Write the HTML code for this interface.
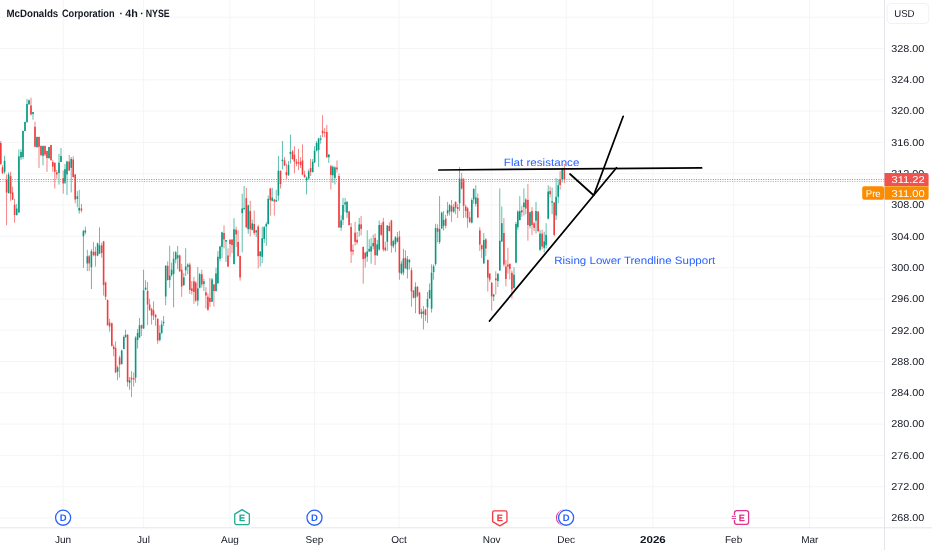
<!DOCTYPE html><html><head><meta charset="utf-8"><title>MCD chart</title><style>html,body{margin:0;padding:0;background:#fff}body{width:932px;height:550px;overflow:hidden}</style></head><body><svg width="932" height="550" viewBox="0 0 932 550" style="display:block;will-change:transform" text-rendering="geometricPrecision" font-family="'Liberation Sans', Arial, sans-serif">
<rect width="932" height="550" fill="#fff"/>
<g stroke="#f4f5f6" stroke-width="1" shape-rendering="auto">
<line x1="63.2" y1="0" x2="63.2" y2="527.8"/>
<line x1="143.6" y1="0" x2="143.6" y2="527.8"/>
<line x1="230" y1="0" x2="230" y2="527.8"/>
<line x1="314.5" y1="0" x2="314.5" y2="527.8"/>
<line x1="399" y1="0" x2="399" y2="527.8"/>
<line x1="491.7" y1="0" x2="491.7" y2="527.8"/>
<line x1="566.2" y1="0" x2="566.2" y2="527.8"/>
<line x1="652.8" y1="0" x2="652.8" y2="527.8"/>
<line x1="733.6" y1="0" x2="733.6" y2="527.8"/>
<line x1="809.6" y1="0" x2="809.6" y2="527.8"/>
<line x1="0" y1="518.00" x2="884.5" y2="518.00"/>
<line x1="0" y1="486.70" x2="884.5" y2="486.70"/>
<line x1="0" y1="455.40" x2="884.5" y2="455.40"/>
<line x1="0" y1="424.10" x2="884.5" y2="424.10"/>
<line x1="0" y1="392.80" x2="884.5" y2="392.80"/>
<line x1="0" y1="361.50" x2="884.5" y2="361.50"/>
<line x1="0" y1="330.20" x2="884.5" y2="330.20"/>
<line x1="0" y1="298.90" x2="884.5" y2="298.90"/>
<line x1="0" y1="267.60" x2="884.5" y2="267.60"/>
<line x1="0" y1="236.30" x2="884.5" y2="236.30"/>
<line x1="0" y1="205.00" x2="884.5" y2="205.00"/>
<line x1="0" y1="173.70" x2="884.5" y2="173.70"/>
<line x1="0" y1="142.40" x2="884.5" y2="142.40"/>
<line x1="0" y1="111.10" x2="884.5" y2="111.10"/>
<line x1="0" y1="79.80" x2="884.5" y2="79.80"/>
<line x1="0" y1="48.50" x2="884.5" y2="48.50"/>
<line x1="0" y1="17.20" x2="884.5" y2="17.20"/>
</g>
<line x1="884.5" y1="0" x2="884.5" y2="550" stroke="#e3e5ea" stroke-width="1"/>
<line x1="0" y1="527.8" x2="932" y2="527.8" stroke="#e3e5ea" stroke-width="1"/>
<g>
<rect x="0.35" y="141.0" width="0.9" height="24.0" fill="#f03e40" fill-opacity="0.7"/>
<rect x="0.00" y="143.0" width="1.6" height="21.0" fill="#f03e40"/>
<rect x="2.05" y="165.0" width="0.9" height="9.0" fill="#f03e40" fill-opacity="0.7"/>
<rect x="1.70" y="167.3" width="1.6" height="5.7" fill="#f03e40"/>
<rect x="4.15" y="155.8" width="0.9" height="17.9" fill="#089981" fill-opacity="0.7"/>
<rect x="3.80" y="160.8" width="1.6" height="11.0" fill="#089981"/>
<rect x="6.15" y="174.4" width="0.9" height="50.9" fill="#f03e40" fill-opacity="0.7"/>
<rect x="5.80" y="180.0" width="1.6" height="12.4" fill="#f03e40"/>
<rect x="8.15" y="172.4" width="0.9" height="21.3" fill="#089981" fill-opacity="0.7"/>
<rect x="7.80" y="174.4" width="1.6" height="18.6" fill="#089981"/>
<rect x="10.15" y="171.8" width="0.9" height="29.0" fill="#f03e40" fill-opacity="0.7"/>
<rect x="9.80" y="176.3" width="1.6" height="17.4" fill="#f03e40"/>
<rect x="12.15" y="186.6" width="0.9" height="13.4" fill="#f03e40" fill-opacity="0.7"/>
<rect x="11.80" y="192.4" width="1.6" height="7.1" fill="#f03e40"/>
<rect x="14.15" y="198.9" width="0.9" height="23.8" fill="#f03e40" fill-opacity="0.7"/>
<rect x="13.80" y="204.7" width="1.6" height="10.3" fill="#f03e40"/>
<rect x="16.25" y="204.0" width="0.9" height="11.6" fill="#089981" fill-opacity="0.7"/>
<rect x="15.90" y="208.5" width="1.6" height="6.5" fill="#089981"/>
<rect x="18.45" y="149.4" width="0.9" height="63.6" fill="#089981" fill-opacity="0.7"/>
<rect x="18.10" y="156.3" width="1.6" height="56.1" fill="#089981"/>
<rect x="20.55" y="149.4" width="0.9" height="10.6" fill="#089981" fill-opacity="0.7"/>
<rect x="20.20" y="152.0" width="1.6" height="5.6" fill="#089981"/>
<rect x="22.55" y="130.6" width="0.9" height="28.4" fill="#089981" fill-opacity="0.7"/>
<rect x="22.20" y="131.0" width="1.6" height="26.0" fill="#089981"/>
<rect x="24.55" y="121.6" width="0.9" height="9.7" fill="#089981" fill-opacity="0.7"/>
<rect x="24.20" y="122.0" width="1.6" height="9.0" fill="#089981"/>
<rect x="26.55" y="99.0" width="0.9" height="24.0" fill="#089981" fill-opacity="0.7"/>
<rect x="26.20" y="104.0" width="1.6" height="18.0" fill="#089981"/>
<rect x="28.55" y="99.5" width="0.9" height="5.5" fill="#089981" fill-opacity="0.7"/>
<rect x="28.20" y="100.3" width="1.6" height="3.9" fill="#089981"/>
<rect x="30.55" y="97.7" width="0.9" height="17.5" fill="#f03e40" fill-opacity="0.7"/>
<rect x="30.20" y="105.5" width="1.6" height="9.0" fill="#f03e40"/>
<rect x="32.55" y="112.0" width="0.9" height="7.7" fill="#089981" fill-opacity="0.7"/>
<rect x="32.20" y="112.0" width="1.6" height="2.0" fill="#089981"/>
<rect x="34.55" y="121.6" width="0.9" height="25.4" fill="#f03e40" fill-opacity="0.7"/>
<rect x="34.20" y="126.8" width="1.6" height="20.0" fill="#f03e40"/>
<rect x="36.55" y="136.5" width="0.9" height="11.5" fill="#089981" fill-opacity="0.7"/>
<rect x="36.20" y="137.0" width="1.6" height="10.0" fill="#089981"/>
<rect x="38.55" y="136.5" width="0.9" height="31.4" fill="#f03e40" fill-opacity="0.7"/>
<rect x="38.20" y="137.0" width="1.6" height="9.8" fill="#f03e40"/>
<rect x="40.55" y="145.5" width="0.9" height="10.8" fill="#f03e40" fill-opacity="0.7"/>
<rect x="40.20" y="146.0" width="1.6" height="9.0" fill="#f03e40"/>
<rect x="42.55" y="145.5" width="0.9" height="19.8" fill="#089981" fill-opacity="0.7"/>
<rect x="42.20" y="146.0" width="1.6" height="9.8" fill="#089981"/>
<rect x="44.55" y="145.5" width="0.9" height="10.5" fill="#f03e40" fill-opacity="0.7"/>
<rect x="44.20" y="146.0" width="1.6" height="8.5" fill="#f03e40"/>
<rect x="46.55" y="150.6" width="0.9" height="21.2" fill="#f03e40" fill-opacity="0.7"/>
<rect x="46.20" y="151.0" width="1.6" height="7.0" fill="#f03e40"/>
<rect x="48.55" y="146.8" width="0.9" height="12.1" fill="#089981" fill-opacity="0.7"/>
<rect x="48.20" y="147.0" width="1.6" height="11.0" fill="#089981"/>
<rect x="50.55" y="144.8" width="0.9" height="16.0" fill="#f03e40" fill-opacity="0.7"/>
<rect x="50.20" y="145.0" width="1.6" height="15.0" fill="#f03e40"/>
<rect x="52.35" y="160.0" width="0.9" height="11.8" fill="#f03e40" fill-opacity="0.7"/>
<rect x="52.00" y="162.0" width="1.6" height="4.6" fill="#f03e40"/>
<rect x="54.35" y="162.7" width="0.9" height="25.8" fill="#f03e40" fill-opacity="0.7"/>
<rect x="54.00" y="162.7" width="1.6" height="9.1" fill="#f03e40"/>
<rect x="56.35" y="170.0" width="0.9" height="8.9" fill="#f03e40" fill-opacity="0.7"/>
<rect x="56.00" y="172.4" width="1.6" height="2.0" fill="#f03e40"/>
<rect x="58.55" y="153.9" width="0.9" height="30.8" fill="#089981" fill-opacity="0.7"/>
<rect x="58.20" y="162.7" width="1.6" height="10.3" fill="#089981"/>
<rect x="60.55" y="148.0" width="0.9" height="14.0" fill="#089981" fill-opacity="0.7"/>
<rect x="60.20" y="156.0" width="1.6" height="6.0" fill="#089981"/>
<rect x="62.75" y="170.5" width="0.9" height="23.2" fill="#f03e40" fill-opacity="0.7"/>
<rect x="62.40" y="178.2" width="1.6" height="5.2" fill="#f03e40"/>
<rect x="64.55" y="164.0" width="0.9" height="20.0" fill="#089981" fill-opacity="0.7"/>
<rect x="64.20" y="169.2" width="1.6" height="13.5" fill="#089981"/>
<rect x="66.55" y="160.8" width="0.9" height="34.2" fill="#089981" fill-opacity="0.7"/>
<rect x="66.20" y="161.5" width="1.6" height="12.9" fill="#089981"/>
<rect x="68.75" y="155.0" width="0.9" height="16.0" fill="#f03e40" fill-opacity="0.7"/>
<rect x="68.40" y="161.5" width="1.6" height="9.0" fill="#f03e40"/>
<rect x="70.75" y="157.0" width="0.9" height="35.4" fill="#089981" fill-opacity="0.7"/>
<rect x="70.40" y="158.9" width="1.6" height="9.0" fill="#089981"/>
<rect x="72.75" y="156.3" width="0.9" height="21.3" fill="#f03e40" fill-opacity="0.7"/>
<rect x="72.40" y="159.5" width="1.6" height="17.5" fill="#f03e40"/>
<rect x="74.75" y="174.4" width="0.9" height="29.0" fill="#f03e40" fill-opacity="0.7"/>
<rect x="74.40" y="174.4" width="1.6" height="25.1" fill="#f03e40"/>
<rect x="76.85" y="191.1" width="0.9" height="16.2" fill="#089981" fill-opacity="0.7"/>
<rect x="76.50" y="196.3" width="1.6" height="2.6" fill="#089981"/>
<rect x="78.75" y="189.8" width="0.9" height="23.9" fill="#089981" fill-opacity="0.7"/>
<rect x="78.40" y="207.9" width="1.6" height="2.6" fill="#089981"/>
<rect x="80.95" y="204.0" width="0.9" height="8.4" fill="#f03e40" fill-opacity="0.7"/>
<rect x="80.60" y="208.5" width="1.6" height="2.0" fill="#f03e40"/>
<rect x="82.95" y="229.8" width="0.9" height="38.1" fill="#089981" fill-opacity="0.7"/>
<rect x="82.60" y="231.1" width="1.6" height="5.2" fill="#089981"/>
<rect x="84.85" y="226.6" width="0.9" height="7.8" fill="#089981" fill-opacity="0.7"/>
<rect x="84.50" y="230.5" width="1.6" height="1.9" fill="#089981"/>
<rect x="86.85" y="249.8" width="0.9" height="21.3" fill="#089981" fill-opacity="0.7"/>
<rect x="86.50" y="256.3" width="1.6" height="7.1" fill="#089981"/>
<rect x="88.75" y="255.0" width="0.9" height="16.0" fill="#f03e40" fill-opacity="0.7"/>
<rect x="88.40" y="256.3" width="1.6" height="7.1" fill="#f03e40"/>
<rect x="90.95" y="249.2" width="0.9" height="39.8" fill="#089981" fill-opacity="0.7"/>
<rect x="90.60" y="251.1" width="1.6" height="16.2" fill="#089981"/>
<rect x="93.05" y="242.1" width="0.9" height="14.2" fill="#f03e40" fill-opacity="0.7"/>
<rect x="92.70" y="251.8" width="1.6" height="3.2" fill="#f03e40"/>
<rect x="94.95" y="246.6" width="0.9" height="20.0" fill="#f03e40" fill-opacity="0.7"/>
<rect x="94.60" y="251.8" width="1.6" height="3.8" fill="#f03e40"/>
<rect x="97.15" y="242.7" width="0.9" height="13.6" fill="#089981" fill-opacity="0.7"/>
<rect x="96.80" y="243.4" width="1.6" height="12.2" fill="#089981"/>
<rect x="99.05" y="227.3" width="0.9" height="26.4" fill="#089981" fill-opacity="0.7"/>
<rect x="98.70" y="245.3" width="1.6" height="8.4" fill="#089981"/>
<rect x="101.25" y="242.7" width="0.9" height="14.9" fill="#f03e40" fill-opacity="0.7"/>
<rect x="100.90" y="245.3" width="1.6" height="7.7" fill="#f03e40"/>
<rect x="103.15" y="240.8" width="0.9" height="54.7" fill="#f03e40" fill-opacity="0.7"/>
<rect x="102.80" y="241.4" width="1.6" height="43.6" fill="#f03e40"/>
<rect x="105.15" y="281.5" width="0.9" height="18.5" fill="#f03e40" fill-opacity="0.7"/>
<rect x="104.80" y="282.6" width="1.6" height="14.2" fill="#f03e40"/>
<rect x="107.15" y="299.4" width="0.9" height="26.4" fill="#f03e40" fill-opacity="0.7"/>
<rect x="106.80" y="300.0" width="1.6" height="25.2" fill="#f03e40"/>
<rect x="109.15" y="318.7" width="0.9" height="12.9" fill="#f03e40" fill-opacity="0.7"/>
<rect x="108.80" y="322.6" width="1.6" height="3.9" fill="#f03e40"/>
<rect x="111.35" y="322.6" width="0.9" height="24.0" fill="#f03e40" fill-opacity="0.7"/>
<rect x="111.00" y="323.2" width="1.6" height="22.6" fill="#f03e40"/>
<rect x="113.25" y="344.5" width="0.9" height="11.8" fill="#f03e40" fill-opacity="0.7"/>
<rect x="112.90" y="346.6" width="1.6" height="2.6" fill="#f03e40"/>
<rect x="115.15" y="341.5" width="0.9" height="31.5" fill="#f03e40" fill-opacity="0.7"/>
<rect x="114.80" y="348.0" width="1.6" height="24.4" fill="#f03e40"/>
<rect x="117.15" y="365.3" width="0.9" height="14.9" fill="#089981" fill-opacity="0.7"/>
<rect x="116.80" y="367.3" width="1.6" height="4.5" fill="#089981"/>
<rect x="119.15" y="355.6" width="0.9" height="22.0" fill="#f03e40" fill-opacity="0.7"/>
<rect x="118.80" y="357.6" width="1.6" height="7.1" fill="#f03e40"/>
<rect x="121.25" y="349.8" width="0.9" height="14.9" fill="#089981" fill-opacity="0.7"/>
<rect x="120.90" y="350.5" width="1.6" height="13.5" fill="#089981"/>
<rect x="123.35" y="335.5" width="0.9" height="13.7" fill="#089981" fill-opacity="0.7"/>
<rect x="123.00" y="337.0" width="1.6" height="12.0" fill="#089981"/>
<rect x="125.15" y="329.7" width="0.9" height="7.7" fill="#089981" fill-opacity="0.7"/>
<rect x="124.80" y="334.8" width="1.6" height="2.6" fill="#089981"/>
<rect x="127.15" y="334.2" width="0.9" height="52.4" fill="#f03e40" fill-opacity="0.7"/>
<rect x="126.80" y="334.8" width="1.6" height="47.3" fill="#f03e40"/>
<rect x="129.15" y="377.0" width="0.9" height="12.8" fill="#089981" fill-opacity="0.7"/>
<rect x="128.80" y="380.2" width="1.6" height="2.5" fill="#089981"/>
<rect x="131.05" y="371.1" width="0.9" height="25.9" fill="#f03e40" fill-opacity="0.7"/>
<rect x="130.70" y="377.6" width="1.6" height="1.9" fill="#f03e40"/>
<rect x="133.25" y="372.4" width="0.9" height="14.2" fill="#f03e40" fill-opacity="0.7"/>
<rect x="132.90" y="378.2" width="1.6" height="1.3" fill="#f03e40"/>
<rect x="135.15" y="336.3" width="0.9" height="46.4" fill="#089981" fill-opacity="0.7"/>
<rect x="134.80" y="337.6" width="1.6" height="40.0" fill="#089981"/>
<rect x="137.15" y="329.0" width="0.9" height="19.5" fill="#089981" fill-opacity="0.7"/>
<rect x="136.80" y="332.9" width="1.6" height="7.1" fill="#089981"/>
<rect x="139.05" y="318.0" width="0.9" height="20.0" fill="#089981" fill-opacity="0.7"/>
<rect x="138.70" y="325.2" width="1.6" height="12.2" fill="#089981"/>
<rect x="141.15" y="324.5" width="0.9" height="11.6" fill="#f03e40" fill-opacity="0.7"/>
<rect x="140.80" y="325.2" width="1.6" height="3.2" fill="#f03e40"/>
<rect x="143.15" y="269.8" width="0.9" height="59.2" fill="#089981" fill-opacity="0.7"/>
<rect x="142.80" y="290.3" width="1.6" height="38.1" fill="#089981"/>
<rect x="145.15" y="280.2" width="0.9" height="10.1" fill="#089981" fill-opacity="0.7"/>
<rect x="144.80" y="287.7" width="1.6" height="2.0" fill="#089981"/>
<rect x="147.15" y="282.0" width="0.9" height="43.2" fill="#f03e40" fill-opacity="0.7"/>
<rect x="146.80" y="291.0" width="1.6" height="13.5" fill="#f03e40"/>
<rect x="149.15" y="298.7" width="0.9" height="12.3" fill="#f03e40" fill-opacity="0.7"/>
<rect x="148.80" y="304.5" width="1.6" height="5.2" fill="#f03e40"/>
<rect x="151.15" y="307.7" width="0.9" height="16.8" fill="#f03e40" fill-opacity="0.7"/>
<rect x="150.80" y="309.0" width="1.6" height="6.5" fill="#f03e40"/>
<rect x="153.05" y="301.3" width="0.9" height="18.7" fill="#f03e40" fill-opacity="0.7"/>
<rect x="152.70" y="310.3" width="1.6" height="5.2" fill="#f03e40"/>
<rect x="155.15" y="314.2" width="0.9" height="11.6" fill="#f03e40" fill-opacity="0.7"/>
<rect x="154.80" y="314.8" width="1.6" height="2.6" fill="#f03e40"/>
<rect x="157.25" y="318.7" width="0.9" height="25.2" fill="#f03e40" fill-opacity="0.7"/>
<rect x="156.90" y="318.7" width="1.6" height="21.9" fill="#f03e40"/>
<rect x="159.35" y="325.2" width="0.9" height="16.3" fill="#089981" fill-opacity="0.7"/>
<rect x="159.00" y="332.9" width="1.6" height="7.1" fill="#089981"/>
<rect x="161.25" y="320.6" width="0.9" height="13.6" fill="#089981" fill-opacity="0.7"/>
<rect x="160.90" y="324.5" width="1.6" height="8.4" fill="#089981"/>
<rect x="163.15" y="316.1" width="0.9" height="9.7" fill="#089981" fill-opacity="0.7"/>
<rect x="162.80" y="321.9" width="1.6" height="1.3" fill="#089981"/>
<rect x="165.25" y="265.2" width="0.9" height="40.0" fill="#089981" fill-opacity="0.7"/>
<rect x="164.90" y="265.8" width="1.6" height="30.7" fill="#089981"/>
<rect x="167.25" y="261.3" width="0.9" height="19.3" fill="#f03e40" fill-opacity="0.7"/>
<rect x="166.90" y="265.8" width="1.6" height="14.2" fill="#f03e40"/>
<rect x="169.25" y="245.8" width="0.9" height="41.9" fill="#089981" fill-opacity="0.7"/>
<rect x="168.90" y="275.5" width="1.6" height="4.5" fill="#089981"/>
<rect x="171.15" y="262.6" width="0.9" height="13.9" fill="#089981" fill-opacity="0.7"/>
<rect x="170.80" y="269.7" width="1.6" height="5.5" fill="#089981"/>
<rect x="173.15" y="251.6" width="0.9" height="55.8" fill="#089981" fill-opacity="0.7"/>
<rect x="172.80" y="258.8" width="1.6" height="15.2" fill="#089981"/>
<rect x="175.25" y="251.0" width="0.9" height="12.3" fill="#089981" fill-opacity="0.7"/>
<rect x="174.90" y="252.3" width="1.6" height="7.1" fill="#089981"/>
<rect x="177.25" y="245.9" width="0.9" height="23.2" fill="#089981" fill-opacity="0.7"/>
<rect x="176.90" y="255.2" width="1.6" height="2.9" fill="#089981"/>
<rect x="179.25" y="254.6" width="0.9" height="17.4" fill="#f03e40" fill-opacity="0.7"/>
<rect x="178.90" y="255.5" width="1.6" height="15.8" fill="#f03e40"/>
<rect x="181.25" y="263.9" width="0.9" height="32.9" fill="#f03e40" fill-opacity="0.7"/>
<rect x="180.90" y="269.7" width="1.6" height="16.8" fill="#f03e40"/>
<rect x="183.35" y="272.9" width="0.9" height="12.9" fill="#089981" fill-opacity="0.7"/>
<rect x="183.00" y="277.4" width="1.6" height="7.8" fill="#089981"/>
<rect x="185.25" y="248.2" width="0.9" height="27.8" fill="#089981" fill-opacity="0.7"/>
<rect x="184.90" y="266.5" width="1.6" height="3.9" fill="#089981"/>
<rect x="187.35" y="263.3" width="0.9" height="11.0" fill="#089981" fill-opacity="0.7"/>
<rect x="187.00" y="264.6" width="1.6" height="2.3" fill="#089981"/>
<rect x="189.35" y="262.6" width="0.9" height="31.4" fill="#f03e40" fill-opacity="0.7"/>
<rect x="189.00" y="264.6" width="1.6" height="25.4" fill="#f03e40"/>
<rect x="191.35" y="281.0" width="0.9" height="13.5" fill="#f03e40" fill-opacity="0.7"/>
<rect x="191.00" y="288.4" width="1.6" height="2.6" fill="#f03e40"/>
<rect x="193.45" y="276.9" width="0.9" height="27.0" fill="#f03e40" fill-opacity="0.7"/>
<rect x="193.10" y="281.3" width="1.6" height="10.7" fill="#f03e40"/>
<rect x="195.25" y="281.3" width="0.9" height="20.6" fill="#f03e40" fill-opacity="0.7"/>
<rect x="194.90" y="282.6" width="1.6" height="18.0" fill="#f03e40"/>
<rect x="197.35" y="267.1" width="0.9" height="38.7" fill="#089981" fill-opacity="0.7"/>
<rect x="197.00" y="288.4" width="1.6" height="12.2" fill="#089981"/>
<rect x="199.25" y="272.9" width="0.9" height="15.5" fill="#089981" fill-opacity="0.7"/>
<rect x="198.90" y="274.2" width="1.6" height="13.5" fill="#089981"/>
<rect x="201.35" y="269.7" width="0.9" height="18.0" fill="#f03e40" fill-opacity="0.7"/>
<rect x="201.00" y="274.2" width="1.6" height="10.3" fill="#f03e40"/>
<rect x="203.45" y="278.7" width="0.9" height="12.3" fill="#089981" fill-opacity="0.7"/>
<rect x="203.10" y="281.3" width="1.6" height="2.6" fill="#089981"/>
<rect x="205.45" y="287.1" width="0.9" height="21.3" fill="#f03e40" fill-opacity="0.7"/>
<rect x="205.10" y="292.3" width="1.6" height="3.2" fill="#f03e40"/>
<rect x="207.45" y="293.5" width="0.9" height="17.5" fill="#f03e40" fill-opacity="0.7"/>
<rect x="207.10" y="296.8" width="1.6" height="12.9" fill="#f03e40"/>
<rect x="209.45" y="278.0" width="0.9" height="29.0" fill="#f03e40" fill-opacity="0.7"/>
<rect x="209.10" y="298.0" width="1.6" height="4.0" fill="#f03e40"/>
<rect x="211.55" y="278.0" width="0.9" height="24.0" fill="#089981" fill-opacity="0.7"/>
<rect x="211.20" y="279.4" width="1.6" height="22.3" fill="#089981"/>
<rect x="213.45" y="283.9" width="0.9" height="22.6" fill="#f03e40" fill-opacity="0.7"/>
<rect x="213.10" y="284.5" width="1.6" height="6.5" fill="#f03e40"/>
<rect x="215.55" y="267.7" width="0.9" height="23.9" fill="#089981" fill-opacity="0.7"/>
<rect x="215.20" y="273.5" width="1.6" height="17.5" fill="#089981"/>
<rect x="217.45" y="251.0" width="0.9" height="32.9" fill="#089981" fill-opacity="0.7"/>
<rect x="217.10" y="256.8" width="1.6" height="26.4" fill="#089981"/>
<rect x="219.55" y="245.8" width="0.9" height="15.5" fill="#089981" fill-opacity="0.7"/>
<rect x="219.20" y="246.5" width="1.6" height="12.2" fill="#089981"/>
<rect x="221.55" y="231.8" width="0.9" height="26.2" fill="#089981" fill-opacity="0.7"/>
<rect x="221.20" y="232.4" width="1.6" height="14.6" fill="#089981"/>
<rect x="223.55" y="225.3" width="0.9" height="23.1" fill="#f03e40" fill-opacity="0.7"/>
<rect x="223.20" y="233.0" width="1.6" height="6.5" fill="#f03e40"/>
<rect x="225.55" y="240.0" width="0.9" height="22.0" fill="#089981" fill-opacity="0.7"/>
<rect x="225.20" y="240.0" width="1.6" height="1.6" fill="#089981"/>
<rect x="227.55" y="248.4" width="0.9" height="18.7" fill="#f03e40" fill-opacity="0.7"/>
<rect x="227.20" y="255.5" width="1.6" height="11.0" fill="#f03e40"/>
<rect x="229.55" y="238.9" width="0.9" height="17.9" fill="#f03e40" fill-opacity="0.7"/>
<rect x="229.20" y="240.0" width="1.6" height="4.0" fill="#f03e40"/>
<rect x="231.55" y="239.5" width="0.9" height="13.5" fill="#f03e40" fill-opacity="0.7"/>
<rect x="231.20" y="239.5" width="1.6" height="5.5" fill="#f03e40"/>
<rect x="233.55" y="218.2" width="0.9" height="46.3" fill="#089981" fill-opacity="0.7"/>
<rect x="233.20" y="229.2" width="1.6" height="34.8" fill="#089981"/>
<rect x="235.65" y="226.6" width="0.9" height="20.4" fill="#f03e40" fill-opacity="0.7"/>
<rect x="235.30" y="229.8" width="1.6" height="4.6" fill="#f03e40"/>
<rect x="237.65" y="230.5" width="0.9" height="26.3" fill="#f03e40" fill-opacity="0.7"/>
<rect x="237.30" y="242.0" width="1.6" height="14.0" fill="#f03e40"/>
<rect x="239.65" y="255.5" width="0.9" height="25.1" fill="#f03e40" fill-opacity="0.7"/>
<rect x="239.30" y="256.0" width="1.6" height="21.4" fill="#f03e40"/>
<rect x="241.75" y="193.7" width="0.9" height="58.6" fill="#089981" fill-opacity="0.7"/>
<rect x="241.40" y="208.5" width="1.6" height="4.5" fill="#089981"/>
<rect x="243.65" y="186.0" width="0.9" height="23.8" fill="#089981" fill-opacity="0.7"/>
<rect x="243.30" y="207.9" width="1.6" height="1.3" fill="#089981"/>
<rect x="245.85" y="187.9" width="0.9" height="40.0" fill="#f03e40" fill-opacity="0.7"/>
<rect x="245.50" y="198.2" width="1.6" height="29.1" fill="#f03e40"/>
<rect x="247.75" y="204.7" width="0.9" height="29.0" fill="#089981" fill-opacity="0.7"/>
<rect x="247.40" y="205.3" width="1.6" height="23.9" fill="#089981"/>
<rect x="249.75" y="200.8" width="0.9" height="35.5" fill="#f03e40" fill-opacity="0.7"/>
<rect x="249.40" y="211.1" width="1.6" height="18.1" fill="#f03e40"/>
<rect x="251.75" y="219.5" width="0.9" height="11.0" fill="#089981" fill-opacity="0.7"/>
<rect x="251.40" y="223.4" width="1.6" height="6.4" fill="#089981"/>
<rect x="253.75" y="210.5" width="0.9" height="24.5" fill="#f03e40" fill-opacity="0.7"/>
<rect x="253.40" y="224.0" width="1.6" height="9.0" fill="#f03e40"/>
<rect x="255.75" y="229.8" width="0.9" height="7.2" fill="#089981" fill-opacity="0.7"/>
<rect x="255.40" y="230.5" width="1.6" height="1.9" fill="#089981"/>
<rect x="257.75" y="224.7" width="0.9" height="43.7" fill="#f03e40" fill-opacity="0.7"/>
<rect x="257.40" y="226.6" width="1.6" height="29.5" fill="#f03e40"/>
<rect x="259.75" y="251.0" width="0.9" height="15.5" fill="#089981" fill-opacity="0.7"/>
<rect x="259.40" y="251.6" width="1.6" height="4.5" fill="#089981"/>
<rect x="261.75" y="226.6" width="0.9" height="36.6" fill="#089981" fill-opacity="0.7"/>
<rect x="261.40" y="238.2" width="1.6" height="18.6" fill="#089981"/>
<rect x="263.75" y="226.0" width="0.9" height="17.0" fill="#089981" fill-opacity="0.7"/>
<rect x="263.40" y="227.3" width="1.6" height="11.6" fill="#089981"/>
<rect x="265.85" y="222.1" width="0.9" height="23.7" fill="#089981" fill-opacity="0.7"/>
<rect x="265.50" y="224.0" width="1.6" height="2.6" fill="#089981"/>
<rect x="267.75" y="195.6" width="0.9" height="29.1" fill="#089981" fill-opacity="0.7"/>
<rect x="267.40" y="198.9" width="1.6" height="25.1" fill="#089981"/>
<rect x="269.85" y="187.9" width="0.9" height="27.7" fill="#f03e40" fill-opacity="0.7"/>
<rect x="269.50" y="188.5" width="1.6" height="11.7" fill="#f03e40"/>
<rect x="271.75" y="187.9" width="0.9" height="13.6" fill="#089981" fill-opacity="0.7"/>
<rect x="271.40" y="197.6" width="1.6" height="3.2" fill="#089981"/>
<rect x="273.85" y="198.9" width="0.9" height="16.7" fill="#f03e40" fill-opacity="0.7"/>
<rect x="273.50" y="199.5" width="1.6" height="2.0" fill="#f03e40"/>
<rect x="275.75" y="189.8" width="0.9" height="12.3" fill="#089981" fill-opacity="0.7"/>
<rect x="275.40" y="200.2" width="1.6" height="1.3" fill="#089981"/>
<rect x="277.95" y="155.9" width="0.9" height="44.9" fill="#089981" fill-opacity="0.7"/>
<rect x="277.60" y="170.7" width="1.6" height="24.9" fill="#089981"/>
<rect x="280.05" y="170.7" width="0.9" height="17.8" fill="#f03e40" fill-opacity="0.7"/>
<rect x="279.70" y="170.7" width="1.6" height="13.3" fill="#f03e40"/>
<rect x="281.95" y="141.0" width="0.9" height="28.4" fill="#089981" fill-opacity="0.7"/>
<rect x="281.60" y="159.7" width="1.6" height="1.3" fill="#089981"/>
<rect x="284.05" y="157.2" width="0.9" height="9.0" fill="#f03e40" fill-opacity="0.7"/>
<rect x="283.70" y="160.4" width="1.6" height="5.1" fill="#f03e40"/>
<rect x="285.95" y="163.6" width="0.9" height="15.4" fill="#f03e40" fill-opacity="0.7"/>
<rect x="285.60" y="172.0" width="1.6" height="3.2" fill="#f03e40"/>
<rect x="288.05" y="161.0" width="0.9" height="14.9" fill="#089981" fill-opacity="0.7"/>
<rect x="287.70" y="164.9" width="1.6" height="10.3" fill="#089981"/>
<rect x="289.95" y="134.6" width="0.9" height="29.0" fill="#089981" fill-opacity="0.7"/>
<rect x="289.60" y="152.0" width="1.6" height="1.9" fill="#089981"/>
<rect x="292.05" y="150.0" width="0.9" height="9.7" fill="#f03e40" fill-opacity="0.7"/>
<rect x="291.70" y="151.4" width="1.6" height="7.6" fill="#f03e40"/>
<rect x="293.95" y="146.2" width="0.9" height="27.1" fill="#f03e40" fill-opacity="0.7"/>
<rect x="293.60" y="154.6" width="1.6" height="7.1" fill="#f03e40"/>
<rect x="296.05" y="159.0" width="0.9" height="7.2" fill="#f03e40" fill-opacity="0.7"/>
<rect x="295.70" y="161.7" width="1.6" height="1.9" fill="#f03e40"/>
<rect x="298.05" y="148.8" width="0.9" height="21.2" fill="#f03e40" fill-opacity="0.7"/>
<rect x="297.70" y="162.3" width="1.6" height="1.3" fill="#f03e40"/>
<rect x="300.15" y="157.2" width="0.9" height="10.8" fill="#f03e40" fill-opacity="0.7"/>
<rect x="299.80" y="161.7" width="1.6" height="3.2" fill="#f03e40"/>
<rect x="302.05" y="144.3" width="0.9" height="30.9" fill="#f03e40" fill-opacity="0.7"/>
<rect x="301.70" y="160.4" width="1.6" height="14.2" fill="#f03e40"/>
<rect x="304.15" y="170.7" width="0.9" height="7.1" fill="#f03e40" fill-opacity="0.7"/>
<rect x="303.80" y="174.6" width="1.6" height="2.6" fill="#f03e40"/>
<rect x="306.15" y="176.5" width="0.9" height="17.9" fill="#089981" fill-opacity="0.7"/>
<rect x="305.80" y="177.8" width="1.6" height="2.4" fill="#089981"/>
<rect x="308.25" y="169.4" width="0.9" height="10.3" fill="#089981" fill-opacity="0.7"/>
<rect x="307.90" y="171.4" width="1.6" height="7.1" fill="#089981"/>
<rect x="310.15" y="159.0" width="0.9" height="16.9" fill="#f03e40" fill-opacity="0.7"/>
<rect x="309.80" y="168.0" width="1.6" height="4.0" fill="#f03e40"/>
<rect x="312.25" y="159.0" width="0.9" height="13.6" fill="#089981" fill-opacity="0.7"/>
<rect x="311.90" y="161.7" width="1.6" height="10.3" fill="#089981"/>
<rect x="314.15" y="146.2" width="0.9" height="16.8" fill="#089981" fill-opacity="0.7"/>
<rect x="313.80" y="150.7" width="1.6" height="11.6" fill="#089981"/>
<rect x="316.15" y="141.0" width="0.9" height="10.4" fill="#089981" fill-opacity="0.7"/>
<rect x="315.80" y="143.0" width="1.6" height="7.7" fill="#089981"/>
<rect x="318.15" y="137.8" width="0.9" height="29.0" fill="#089981" fill-opacity="0.7"/>
<rect x="317.80" y="138.5" width="1.6" height="11.5" fill="#089981"/>
<rect x="320.25" y="135.2" width="0.9" height="8.4" fill="#089981" fill-opacity="0.7"/>
<rect x="319.90" y="138.5" width="1.6" height="1.2" fill="#089981"/>
<rect x="322.15" y="115.2" width="0.9" height="22.0" fill="#f03e40" fill-opacity="0.7"/>
<rect x="321.80" y="130.7" width="1.6" height="2.6" fill="#f03e40"/>
<rect x="324.25" y="128.1" width="0.9" height="9.1" fill="#f03e40" fill-opacity="0.7"/>
<rect x="323.90" y="132.0" width="1.6" height="0.8" fill="#f03e40"/>
<rect x="326.35" y="124.9" width="0.9" height="32.9" fill="#f03e40" fill-opacity="0.7"/>
<rect x="326.00" y="132.0" width="1.6" height="25.2" fill="#f03e40"/>
<rect x="328.35" y="153.9" width="0.9" height="9.1" fill="#089981" fill-opacity="0.7"/>
<rect x="328.00" y="154.6" width="1.6" height="2.6" fill="#089981"/>
<rect x="330.45" y="164.9" width="0.9" height="24.6" fill="#f03e40" fill-opacity="0.7"/>
<rect x="330.10" y="166.2" width="1.6" height="8.8" fill="#f03e40"/>
<rect x="332.35" y="165.5" width="0.9" height="17.5" fill="#089981" fill-opacity="0.7"/>
<rect x="332.00" y="166.8" width="1.6" height="8.5" fill="#089981"/>
<rect x="334.45" y="166.2" width="0.9" height="18.2" fill="#089981" fill-opacity="0.7"/>
<rect x="334.10" y="167.5" width="1.6" height="10.4" fill="#089981"/>
<rect x="336.55" y="160.4" width="0.9" height="12.2" fill="#f03e40" fill-opacity="0.7"/>
<rect x="336.20" y="167.5" width="1.6" height="1.9" fill="#f03e40"/>
<rect x="338.55" y="173.4" width="0.9" height="54.2" fill="#f03e40" fill-opacity="0.7"/>
<rect x="338.20" y="176.0" width="1.6" height="51.6" fill="#f03e40"/>
<rect x="340.65" y="215.3" width="0.9" height="15.5" fill="#089981" fill-opacity="0.7"/>
<rect x="340.30" y="220.5" width="1.6" height="7.1" fill="#089981"/>
<rect x="342.55" y="197.9" width="0.9" height="27.1" fill="#089981" fill-opacity="0.7"/>
<rect x="342.20" y="205.0" width="1.6" height="14.8" fill="#089981"/>
<rect x="344.65" y="197.9" width="0.9" height="14.2" fill="#089981" fill-opacity="0.7"/>
<rect x="344.30" y="202.4" width="1.6" height="2.0" fill="#089981"/>
<rect x="346.55" y="201.1" width="0.9" height="16.8" fill="#089981" fill-opacity="0.7"/>
<rect x="346.20" y="201.8" width="1.6" height="10.9" fill="#089981"/>
<rect x="348.65" y="210.8" width="0.9" height="14.8" fill="#f03e40" fill-opacity="0.7"/>
<rect x="348.30" y="211.5" width="1.6" height="13.5" fill="#f03e40"/>
<rect x="350.65" y="223.0" width="0.9" height="40.0" fill="#f03e40" fill-opacity="0.7"/>
<rect x="350.30" y="227.0" width="1.6" height="24.5" fill="#f03e40"/>
<rect x="352.55" y="244.4" width="0.9" height="10.9" fill="#f03e40" fill-opacity="0.7"/>
<rect x="352.20" y="250.0" width="1.6" height="1.5" fill="#f03e40"/>
<rect x="354.65" y="221.8" width="0.9" height="23.8" fill="#f03e40" fill-opacity="0.7"/>
<rect x="354.30" y="232.7" width="1.6" height="9.1" fill="#f03e40"/>
<rect x="356.65" y="232.0" width="0.9" height="12.4" fill="#f03e40" fill-opacity="0.7"/>
<rect x="356.30" y="239.8" width="1.6" height="2.6" fill="#f03e40"/>
<rect x="358.75" y="217.9" width="0.9" height="18.7" fill="#089981" fill-opacity="0.7"/>
<rect x="358.40" y="224.4" width="1.6" height="6.4" fill="#089981"/>
<rect x="360.65" y="216.0" width="0.9" height="19.3" fill="#f03e40" fill-opacity="0.7"/>
<rect x="360.30" y="224.4" width="1.6" height="4.5" fill="#f03e40"/>
<rect x="362.75" y="246.3" width="0.9" height="37.4" fill="#f03e40" fill-opacity="0.7"/>
<rect x="362.40" y="247.0" width="1.6" height="12.2" fill="#f03e40"/>
<rect x="364.75" y="252.0" width="0.9" height="15.6" fill="#f03e40" fill-opacity="0.7"/>
<rect x="364.40" y="252.7" width="1.6" height="5.8" fill="#f03e40"/>
<rect x="366.75" y="230.2" width="0.9" height="31.6" fill="#089981" fill-opacity="0.7"/>
<rect x="366.40" y="251.5" width="1.6" height="5.1" fill="#089981"/>
<rect x="368.75" y="239.2" width="0.9" height="12.9" fill="#089981" fill-opacity="0.7"/>
<rect x="368.40" y="248.9" width="1.6" height="2.6" fill="#089981"/>
<rect x="370.65" y="237.9" width="0.9" height="25.8" fill="#089981" fill-opacity="0.7"/>
<rect x="370.30" y="246.3" width="1.6" height="5.2" fill="#089981"/>
<rect x="372.75" y="234.7" width="0.9" height="14.8" fill="#089981" fill-opacity="0.7"/>
<rect x="372.40" y="243.0" width="1.6" height="3.3" fill="#089981"/>
<rect x="374.65" y="233.4" width="0.9" height="31.6" fill="#f03e40" fill-opacity="0.7"/>
<rect x="374.30" y="237.9" width="1.6" height="17.4" fill="#f03e40"/>
<rect x="376.75" y="239.8" width="0.9" height="16.2" fill="#089981" fill-opacity="0.7"/>
<rect x="376.40" y="244.4" width="1.6" height="10.9" fill="#089981"/>
<rect x="378.75" y="220.5" width="0.9" height="30.3" fill="#089981" fill-opacity="0.7"/>
<rect x="378.40" y="225.0" width="1.6" height="24.5" fill="#089981"/>
<rect x="380.75" y="223.0" width="0.9" height="13.0" fill="#f03e40" fill-opacity="0.7"/>
<rect x="380.40" y="225.0" width="1.6" height="9.7" fill="#f03e40"/>
<rect x="382.85" y="217.9" width="0.9" height="33.6" fill="#f03e40" fill-opacity="0.7"/>
<rect x="382.50" y="221.8" width="1.6" height="27.7" fill="#f03e40"/>
<rect x="384.85" y="241.8" width="0.9" height="9.7" fill="#f03e40" fill-opacity="0.7"/>
<rect x="384.50" y="247.6" width="1.6" height="2.6" fill="#f03e40"/>
<rect x="386.85" y="225.0" width="0.9" height="25.8" fill="#089981" fill-opacity="0.7"/>
<rect x="386.50" y="225.6" width="1.6" height="16.2" fill="#089981"/>
<rect x="388.85" y="222.4" width="0.9" height="9.1" fill="#f03e40" fill-opacity="0.7"/>
<rect x="388.50" y="226.0" width="1.6" height="5.0" fill="#f03e40"/>
<rect x="390.95" y="219.8" width="0.9" height="32.9" fill="#f03e40" fill-opacity="0.7"/>
<rect x="390.60" y="220.5" width="1.6" height="25.1" fill="#f03e40"/>
<rect x="392.85" y="239.8" width="0.9" height="8.4" fill="#089981" fill-opacity="0.7"/>
<rect x="392.50" y="241.1" width="1.6" height="5.2" fill="#089981"/>
<rect x="394.95" y="236.0" width="0.9" height="16.1" fill="#089981" fill-opacity="0.7"/>
<rect x="394.60" y="237.3" width="1.6" height="7.1" fill="#089981"/>
<rect x="396.95" y="232.0" width="0.9" height="10.4" fill="#089981" fill-opacity="0.7"/>
<rect x="396.60" y="237.9" width="1.6" height="3.9" fill="#089981"/>
<rect x="398.95" y="230.8" width="0.9" height="49.0" fill="#f03e40" fill-opacity="0.7"/>
<rect x="398.60" y="236.6" width="1.6" height="36.1" fill="#f03e40"/>
<rect x="400.95" y="261.1" width="0.9" height="13.6" fill="#089981" fill-opacity="0.7"/>
<rect x="400.60" y="263.7" width="1.6" height="9.7" fill="#089981"/>
<rect x="402.95" y="248.9" width="0.9" height="26.4" fill="#089981" fill-opacity="0.7"/>
<rect x="402.60" y="258.5" width="1.6" height="14.2" fill="#089981"/>
<rect x="404.95" y="250.2" width="0.9" height="18.7" fill="#f03e40" fill-opacity="0.7"/>
<rect x="404.60" y="257.9" width="1.6" height="10.3" fill="#f03e40"/>
<rect x="406.95" y="256.0" width="0.9" height="22.5" fill="#089981" fill-opacity="0.7"/>
<rect x="406.60" y="259.2" width="1.6" height="10.3" fill="#089981"/>
<rect x="408.95" y="259.2" width="0.9" height="10.3" fill="#089981" fill-opacity="0.7"/>
<rect x="408.60" y="259.8" width="1.6" height="2.6" fill="#089981"/>
<rect x="411.05" y="267.6" width="0.9" height="39.2" fill="#f03e40" fill-opacity="0.7"/>
<rect x="410.70" y="270.2" width="1.6" height="21.3" fill="#f03e40"/>
<rect x="413.05" y="290.0" width="0.9" height="8.4" fill="#f03e40" fill-opacity="0.7"/>
<rect x="412.70" y="290.6" width="1.6" height="7.1" fill="#f03e40"/>
<rect x="415.05" y="282.3" width="0.9" height="30.9" fill="#089981" fill-opacity="0.7"/>
<rect x="414.70" y="286.8" width="1.6" height="10.9" fill="#089981"/>
<rect x="417.05" y="286.1" width="0.9" height="11.0" fill="#f03e40" fill-opacity="0.7"/>
<rect x="416.70" y="286.8" width="1.6" height="9.0" fill="#f03e40"/>
<rect x="419.05" y="291.9" width="0.9" height="22.6" fill="#f03e40" fill-opacity="0.7"/>
<rect x="418.70" y="292.6" width="1.6" height="21.3" fill="#f03e40"/>
<rect x="421.05" y="308.7" width="0.9" height="9.7" fill="#089981" fill-opacity="0.7"/>
<rect x="420.70" y="311.9" width="1.6" height="2.0" fill="#089981"/>
<rect x="422.95" y="306.1" width="0.9" height="23.3" fill="#089981" fill-opacity="0.7"/>
<rect x="422.60" y="311.3" width="1.6" height="2.6" fill="#089981"/>
<rect x="425.05" y="308.7" width="0.9" height="12.3" fill="#f03e40" fill-opacity="0.7"/>
<rect x="424.70" y="309.4" width="1.6" height="5.8" fill="#f03e40"/>
<rect x="427.05" y="291.9" width="0.9" height="31.0" fill="#089981" fill-opacity="0.7"/>
<rect x="426.70" y="299.0" width="1.6" height="8.4" fill="#089981"/>
<rect x="429.15" y="283.5" width="0.9" height="15.5" fill="#089981" fill-opacity="0.7"/>
<rect x="428.80" y="290.0" width="1.6" height="8.4" fill="#089981"/>
<rect x="431.15" y="264.4" width="0.9" height="48.2" fill="#089981" fill-opacity="0.7"/>
<rect x="430.80" y="272.7" width="1.6" height="36.0" fill="#089981"/>
<rect x="433.15" y="264.4" width="0.9" height="15.4" fill="#089981" fill-opacity="0.7"/>
<rect x="432.80" y="266.3" width="1.6" height="5.8" fill="#089981"/>
<rect x="435.15" y="223.7" width="0.9" height="42.2" fill="#089981" fill-opacity="0.7"/>
<rect x="434.80" y="228.0" width="1.6" height="36.0" fill="#089981"/>
<rect x="437.15" y="224.4" width="0.9" height="18.1" fill="#f03e40" fill-opacity="0.7"/>
<rect x="436.80" y="228.3" width="1.6" height="3.5" fill="#f03e40"/>
<rect x="439.15" y="196.1" width="0.9" height="47.9" fill="#089981" fill-opacity="0.7"/>
<rect x="438.80" y="229.0" width="1.6" height="13.0" fill="#089981"/>
<rect x="441.25" y="211.6" width="0.9" height="17.4" fill="#089981" fill-opacity="0.7"/>
<rect x="440.90" y="212.7" width="1.6" height="15.8" fill="#089981"/>
<rect x="443.15" y="211.0" width="0.9" height="19.5" fill="#089981" fill-opacity="0.7"/>
<rect x="442.80" y="220.0" width="1.6" height="5.8" fill="#089981"/>
<rect x="445.25" y="214.8" width="0.9" height="13.6" fill="#f03e40" fill-opacity="0.7"/>
<rect x="444.90" y="218.7" width="1.6" height="7.1" fill="#f03e40"/>
<rect x="447.15" y="201.9" width="0.9" height="14.2" fill="#089981" fill-opacity="0.7"/>
<rect x="446.80" y="210.3" width="1.6" height="3.2" fill="#089981"/>
<rect x="449.15" y="203.9" width="0.9" height="11.6" fill="#089981" fill-opacity="0.7"/>
<rect x="448.80" y="205.2" width="1.6" height="6.4" fill="#089981"/>
<rect x="451.15" y="200.0" width="0.9" height="21.9" fill="#f03e40" fill-opacity="0.7"/>
<rect x="450.80" y="205.8" width="1.6" height="5.8" fill="#f03e40"/>
<rect x="453.25" y="203.9" width="0.9" height="9.0" fill="#089981" fill-opacity="0.7"/>
<rect x="452.90" y="207.1" width="1.6" height="4.5" fill="#089981"/>
<rect x="455.15" y="201.3" width="0.9" height="12.9" fill="#f03e40" fill-opacity="0.7"/>
<rect x="454.80" y="201.9" width="1.6" height="5.8" fill="#f03e40"/>
<rect x="457.25" y="203.9" width="0.9" height="14.1" fill="#f03e40" fill-opacity="0.7"/>
<rect x="456.90" y="207.1" width="1.6" height="1.9" fill="#f03e40"/>
<rect x="459.15" y="167.1" width="0.9" height="43.9" fill="#089981" fill-opacity="0.7"/>
<rect x="458.80" y="178.7" width="1.6" height="24.5" fill="#089981"/>
<rect x="461.25" y="172.9" width="0.9" height="16.8" fill="#f03e40" fill-opacity="0.7"/>
<rect x="460.90" y="178.7" width="1.6" height="9.7" fill="#f03e40"/>
<rect x="463.15" y="178.0" width="0.9" height="40.0" fill="#f03e40" fill-opacity="0.7"/>
<rect x="462.80" y="179.4" width="1.6" height="26.4" fill="#f03e40"/>
<rect x="465.25" y="204.5" width="0.9" height="12.9" fill="#f03e40" fill-opacity="0.7"/>
<rect x="464.90" y="206.5" width="1.6" height="4.5" fill="#f03e40"/>
<rect x="467.15" y="207.1" width="0.9" height="20.7" fill="#f03e40" fill-opacity="0.7"/>
<rect x="466.80" y="208.4" width="1.6" height="9.7" fill="#f03e40"/>
<rect x="469.25" y="211.6" width="0.9" height="11.6" fill="#f03e40" fill-opacity="0.7"/>
<rect x="468.90" y="217.4" width="1.6" height="4.5" fill="#f03e40"/>
<rect x="471.35" y="198.1" width="0.9" height="25.4" fill="#089981" fill-opacity="0.7"/>
<rect x="471.00" y="200.0" width="1.6" height="22.6" fill="#089981"/>
<rect x="473.25" y="188.4" width="0.9" height="15.5" fill="#089981" fill-opacity="0.7"/>
<rect x="472.90" y="189.0" width="1.6" height="10.4" fill="#089981"/>
<rect x="475.35" y="185.2" width="0.9" height="21.3" fill="#089981" fill-opacity="0.7"/>
<rect x="475.00" y="197.4" width="1.6" height="6.5" fill="#089981"/>
<rect x="477.35" y="193.5" width="0.9" height="24.6" fill="#f03e40" fill-opacity="0.7"/>
<rect x="477.00" y="198.1" width="1.6" height="19.3" fill="#f03e40"/>
<rect x="479.35" y="227.2" width="0.9" height="23.8" fill="#f03e40" fill-opacity="0.7"/>
<rect x="479.00" y="230.4" width="1.6" height="14.2" fill="#f03e40"/>
<rect x="481.25" y="244.6" width="0.9" height="13.5" fill="#f03e40" fill-opacity="0.7"/>
<rect x="480.90" y="245.2" width="1.6" height="3.9" fill="#f03e40"/>
<rect x="483.35" y="233.0" width="0.9" height="30.9" fill="#089981" fill-opacity="0.7"/>
<rect x="483.00" y="240.0" width="1.6" height="23.3" fill="#089981"/>
<rect x="485.35" y="238.1" width="0.9" height="18.1" fill="#f03e40" fill-opacity="0.7"/>
<rect x="485.00" y="239.4" width="1.6" height="9.1" fill="#f03e40"/>
<rect x="487.35" y="259.4" width="0.9" height="32.1" fill="#f03e40" fill-opacity="0.7"/>
<rect x="487.00" y="260.0" width="1.6" height="17.6" fill="#f03e40"/>
<rect x="489.25" y="273.0" width="0.9" height="9.0" fill="#f03e40" fill-opacity="0.7"/>
<rect x="488.90" y="273.6" width="1.6" height="6.0" fill="#f03e40"/>
<rect x="491.25" y="282.0" width="0.9" height="28.6" fill="#f03e40" fill-opacity="0.7"/>
<rect x="490.90" y="282.8" width="1.6" height="13.7" fill="#f03e40"/>
<rect x="493.25" y="293.9" width="0.9" height="7.1" fill="#089981" fill-opacity="0.7"/>
<rect x="492.90" y="294.5" width="1.6" height="2.0" fill="#089981"/>
<rect x="495.35" y="271.2" width="0.9" height="23.3" fill="#f03e40" fill-opacity="0.7"/>
<rect x="495.00" y="278.5" width="1.6" height="1.7" fill="#f03e40"/>
<rect x="497.45" y="273.1" width="0.9" height="13.9" fill="#089981" fill-opacity="0.7"/>
<rect x="497.10" y="273.8" width="1.6" height="7.2" fill="#089981"/>
<rect x="499.35" y="188.4" width="0.9" height="82.6" fill="#089981" fill-opacity="0.7"/>
<rect x="499.00" y="240.7" width="1.6" height="29.7" fill="#089981"/>
<rect x="501.35" y="206.5" width="0.9" height="35.5" fill="#089981" fill-opacity="0.7"/>
<rect x="501.00" y="223.2" width="1.6" height="18.3" fill="#089981"/>
<rect x="503.45" y="218.1" width="0.9" height="48.4" fill="#f03e40" fill-opacity="0.7"/>
<rect x="503.10" y="233.0" width="1.6" height="31.6" fill="#f03e40"/>
<rect x="505.45" y="260.0" width="0.9" height="26.3" fill="#f03e40" fill-opacity="0.7"/>
<rect x="505.10" y="266.5" width="1.6" height="12.5" fill="#f03e40"/>
<rect x="507.45" y="247.8" width="0.9" height="25.8" fill="#f03e40" fill-opacity="0.7"/>
<rect x="507.10" y="264.6" width="1.6" height="1.9" fill="#f03e40"/>
<rect x="509.35" y="263.3" width="0.9" height="16.2" fill="#f03e40" fill-opacity="0.7"/>
<rect x="509.00" y="264.0" width="1.6" height="5.1" fill="#f03e40"/>
<rect x="511.45" y="270.4" width="0.9" height="28.0" fill="#f03e40" fill-opacity="0.7"/>
<rect x="511.10" y="272.8" width="1.6" height="16.5" fill="#f03e40"/>
<rect x="513.55" y="267.2" width="0.9" height="21.4" fill="#089981" fill-opacity="0.7"/>
<rect x="513.20" y="274.7" width="1.6" height="13.2" fill="#089981"/>
<rect x="515.55" y="222.0" width="0.9" height="41.3" fill="#089981" fill-opacity="0.7"/>
<rect x="515.20" y="224.0" width="1.6" height="38.6" fill="#089981"/>
<rect x="517.35" y="210.3" width="0.9" height="19.4" fill="#089981" fill-opacity="0.7"/>
<rect x="517.00" y="211.6" width="1.6" height="15.6" fill="#089981"/>
<rect x="519.35" y="196.1" width="0.9" height="24.5" fill="#089981" fill-opacity="0.7"/>
<rect x="519.00" y="211.0" width="1.6" height="9.0" fill="#089981"/>
<rect x="521.35" y="205.8" width="0.9" height="11.0" fill="#f03e40" fill-opacity="0.7"/>
<rect x="521.00" y="210.3" width="1.6" height="2.0" fill="#f03e40"/>
<rect x="523.45" y="188.4" width="0.9" height="27.1" fill="#089981" fill-opacity="0.7"/>
<rect x="523.10" y="202.6" width="1.6" height="4.5" fill="#089981"/>
<rect x="525.35" y="198.1" width="0.9" height="16.1" fill="#f03e40" fill-opacity="0.7"/>
<rect x="525.00" y="199.5" width="1.6" height="9.0" fill="#f03e40"/>
<rect x="527.45" y="183.9" width="0.9" height="56.8" fill="#f03e40" fill-opacity="0.7"/>
<rect x="527.10" y="200.0" width="1.6" height="25.0" fill="#f03e40"/>
<rect x="529.55" y="211.6" width="0.9" height="16.9" fill="#089981" fill-opacity="0.7"/>
<rect x="529.20" y="212.3" width="1.6" height="13.7" fill="#089981"/>
<rect x="531.55" y="207.1" width="0.9" height="27.8" fill="#f03e40" fill-opacity="0.7"/>
<rect x="531.20" y="211.0" width="1.6" height="14.0" fill="#f03e40"/>
<rect x="533.65" y="221.9" width="0.9" height="9.1" fill="#f03e40" fill-opacity="0.7"/>
<rect x="533.30" y="223.3" width="1.6" height="4.5" fill="#f03e40"/>
<rect x="535.55" y="201.9" width="0.9" height="31.7" fill="#089981" fill-opacity="0.7"/>
<rect x="535.20" y="211.0" width="1.6" height="9.6" fill="#089981"/>
<rect x="537.65" y="211.0" width="0.9" height="21.3" fill="#f03e40" fill-opacity="0.7"/>
<rect x="537.30" y="211.6" width="1.6" height="19.4" fill="#f03e40"/>
<rect x="539.55" y="229.7" width="0.9" height="21.3" fill="#089981" fill-opacity="0.7"/>
<rect x="539.20" y="233.6" width="1.6" height="16.1" fill="#089981"/>
<rect x="541.65" y="229.7" width="0.9" height="19.4" fill="#f03e40" fill-opacity="0.7"/>
<rect x="541.30" y="233.6" width="1.6" height="12.9" fill="#f03e40"/>
<rect x="543.75" y="231.7" width="0.9" height="20.6" fill="#089981" fill-opacity="0.7"/>
<rect x="543.40" y="241.4" width="1.6" height="6.4" fill="#089981"/>
<rect x="545.65" y="223.2" width="0.9" height="25.3" fill="#089981" fill-opacity="0.7"/>
<rect x="545.30" y="234.9" width="1.6" height="10.3" fill="#089981"/>
<rect x="547.75" y="185.2" width="0.9" height="34.2" fill="#089981" fill-opacity="0.7"/>
<rect x="547.40" y="191.6" width="1.6" height="27.1" fill="#089981"/>
<rect x="549.65" y="186.5" width="0.9" height="10.9" fill="#f03e40" fill-opacity="0.7"/>
<rect x="549.30" y="191.0" width="1.6" height="3.2" fill="#f03e40"/>
<rect x="551.65" y="187.7" width="0.9" height="26.5" fill="#089981" fill-opacity="0.7"/>
<rect x="551.30" y="201.3" width="1.6" height="1.3" fill="#089981"/>
<rect x="553.75" y="201.9" width="0.9" height="34.3" fill="#f03e40" fill-opacity="0.7"/>
<rect x="553.40" y="202.6" width="1.6" height="32.3" fill="#f03e40"/>
<rect x="555.65" y="178.1" width="0.9" height="41.9" fill="#089981" fill-opacity="0.7"/>
<rect x="555.30" y="196.8" width="1.6" height="18.7" fill="#089981"/>
<rect x="557.75" y="179.4" width="0.9" height="23.8" fill="#089981" fill-opacity="0.7"/>
<rect x="557.40" y="185.2" width="1.6" height="11.6" fill="#089981"/>
<rect x="559.65" y="171.0" width="0.9" height="18.7" fill="#f03e40" fill-opacity="0.7"/>
<rect x="559.30" y="179.4" width="1.6" height="5.6" fill="#f03e40"/>
<rect x="561.75" y="167.7" width="0.9" height="14.9" fill="#089981" fill-opacity="0.7"/>
<rect x="561.40" y="169.0" width="1.6" height="10.4" fill="#089981"/>
<rect x="563.85" y="163.9" width="0.9" height="19.3" fill="#f03e40" fill-opacity="0.7"/>
<rect x="563.50" y="169.7" width="1.6" height="9.7" fill="#f03e40"/>
</g>
<line x1="0" y1="179.50" x2="884.5" y2="179.50" stroke="#ef5350" stroke-width="1" stroke-dasharray="1.05 1.35" stroke-opacity="0.8"/>
<line x1="0" y1="181.50" x2="884.5" y2="181.50" stroke="#fb8c00" stroke-width="1" stroke-dasharray="1.05 1.35" stroke-opacity="0.8"/>
<g stroke="#000" stroke-width="1.75" stroke-linecap="round" fill="none">
<line x1="438.9" y1="170.0" x2="701.6" y2="167.9"/>
<line x1="489.5" y1="321" x2="616.5" y2="167.8"/>
<line x1="570" y1="174" x2="593.3" y2="195"/>
<line x1="593.8" y1="195" x2="623.2" y2="116.3"/>
</g>
<text transform="translate(503.80 165.60) scale(1.0974 1)" font-size="10.6" fill="#2962ff">Flat resistance</text>
<text transform="translate(554.20 263.60) scale(1.0892 1)" font-size="10.6" fill="#2962ff">Rising Lower Trendline Support</text>
<text transform="translate(6.50 16.50) scale(0.9068 1)" font-size="10.7" fill="#131722" font-weight="bold">McDonalds</text>
<text transform="translate(61.90 16.50) scale(0.8617 1)" font-size="10.7" fill="#131722" font-weight="bold">Corporation</text>
<text transform="translate(119.60 16.50) scale(0.9544 1)" font-size="10.7" fill="#131722" font-weight="bold">·</text>
<text transform="translate(125.20 16.50) scale(1.0093 1)" font-size="10.7" fill="#131722" font-weight="bold">4h</text>
<text transform="translate(140.20 16.50) scale(0.9544 1)" font-size="10.7" fill="#131722" font-weight="bold">·</text>
<text transform="translate(145.70 16.50) scale(0.8245 1)" font-size="10.7" fill="#131722" font-weight="bold">NYSE</text>
<text transform="translate(891.20 521.35) scale(1.0819 1)" font-size="10" fill="#131722">268.00</text>
<text transform="translate(891.20 490.05) scale(1.0819 1)" font-size="10" fill="#131722">272.00</text>
<text transform="translate(891.20 458.75) scale(1.0819 1)" font-size="10" fill="#131722">276.00</text>
<text transform="translate(891.20 427.45) scale(1.0819 1)" font-size="10" fill="#131722">280.00</text>
<text transform="translate(891.20 396.15) scale(1.0819 1)" font-size="10" fill="#131722">284.00</text>
<text transform="translate(891.20 364.85) scale(1.0819 1)" font-size="10" fill="#131722">288.00</text>
<text transform="translate(891.20 333.55) scale(1.0819 1)" font-size="10" fill="#131722">292.00</text>
<text transform="translate(891.20 302.25) scale(1.0819 1)" font-size="10" fill="#131722">296.00</text>
<text transform="translate(891.20 270.95) scale(1.0819 1)" font-size="10" fill="#131722">300.00</text>
<text transform="translate(891.20 239.65) scale(1.0819 1)" font-size="10" fill="#131722">304.00</text>
<text transform="translate(891.20 208.35) scale(1.0819 1)" font-size="10" fill="#131722">308.00</text>
<text transform="translate(891.20 177.05) scale(1.0819 1)" font-size="10" fill="#131722">312.00</text>
<text transform="translate(891.20 145.75) scale(1.0819 1)" font-size="10" fill="#131722">316.00</text>
<text transform="translate(891.20 114.45) scale(1.0819 1)" font-size="10" fill="#131722">320.00</text>
<text transform="translate(891.20 83.15) scale(1.0819 1)" font-size="10" fill="#131722">324.00</text>
<text transform="translate(891.20 51.85) scale(1.0819 1)" font-size="10" fill="#131722">328.00</text>
<rect x="887.2" y="3.5" width="41.5" height="20" rx="3.5" fill="#fff" stroke="#f0f2f5" stroke-width="1"/>
<text transform="translate(894.20 16.90) scale(0.9609 1)" font-size="10" fill="#131722">USD</text>
<path d="M884.5 173 H926.6 a2 2 0 0 1 2 2 V186 H884.5 Z" fill="#ef5350"/>
<text transform="translate(891.60 183.20) scale(1.1091 1)" font-size="10" fill="#fff">311.22</text>
<path d="M884.5 186.2 H928.6 V197.7 a2 2 0 0 1 -2 2 H884.5 Z" fill="#fb8c00"/>
<text transform="translate(891.60 196.60) scale(1.1091 1)" font-size="10" fill="#fff">311.00</text>
<rect x="862.2" y="186.2" width="21.8" height="13.5" rx="2" fill="#fb8c00"/>
<text transform="translate(865.80 196.60) scale(0.9574 1)" font-size="10" fill="#fff">Pre</text>
<text transform="translate(55.04 543.10) scale(1.0000 1)" font-size="10" fill="#131722">Jun</text>
<text transform="translate(137.10 543.10) scale(1.0000 1)" font-size="10" fill="#131722">Jul</text>
<text transform="translate(221.10 543.10) scale(1.0000 1)" font-size="10" fill="#131722">Aug</text>
<text transform="translate(305.60 543.10) scale(1.0000 1)" font-size="10" fill="#131722">Sep</text>
<text transform="translate(391.22 543.10) scale(1.0000 1)" font-size="10" fill="#131722">Oct</text>
<text transform="translate(482.80 543.10) scale(1.0000 1)" font-size="10" fill="#131722">Nov</text>
<text transform="translate(557.30 543.10) scale(1.0000 1)" font-size="10" fill="#131722">Dec</text>
<text transform="translate(640.00 543.10) scale(1.1596 1)" font-size="10" fill="#131722" font-weight="bold">2026</text>
<text transform="translate(724.98 543.10) scale(1.0000 1)" font-size="10" fill="#131722">Feb</text>
<text transform="translate(801.18 543.10) scale(1.0000 1)" font-size="10" fill="#131722">Mar</text>
<circle cx="63.1" cy="517.7" r="9.6" fill="#fff"/>
<circle cx="63.1" cy="517.7" r="7.55" fill="#fff" stroke="#2962ff" stroke-width="1.3"/>
<text x="63.1" y="521.1" font-size="9.5" font-weight="bold" fill="#2962ff" text-anchor="middle">D</text>
<circle cx="314.5" cy="517.7" r="9.6" fill="#fff"/>
<circle cx="314.5" cy="517.7" r="7.55" fill="#fff" stroke="#2962ff" stroke-width="1.3"/>
<text x="314.5" y="521.1" font-size="9.5" font-weight="bold" fill="#2962ff" text-anchor="middle">D</text>
<circle cx="564.1" cy="517.7" r="9.6" fill="#fff"/>
<circle cx="564.1" cy="517.7" r="7.55" fill="#fff" stroke="#e0358c" stroke-width="1.3"/>
<circle cx="566.1" cy="517.7" r="8.95" fill="#fff"/>
<circle cx="566.1" cy="517.7" r="7.55" fill="#fff" stroke="#2962ff" stroke-width="1.3"/>
<text x="566.1" y="521.1" font-size="9.5" font-weight="bold" fill="#2962ff" text-anchor="middle">D</text>
<path d="M242 506.5 L252 512.5 V527.3 H232 V512.5 Z" fill="#fff"/>
<path d="M242.05 509.6 L249.35 514.1 V523 a1.6 1.6 0 0 1 -1.6 1.6 H236.35 a1.6 1.6 0 0 1 -1.6 -1.6 V514.1 Z" fill="#fff" stroke="#22ab94" stroke-width="1.3" stroke-linejoin="round"/>
<text x="242.1" y="520.7" font-size="9" font-weight="bold" fill="#22ab94" stroke="#22ab94" stroke-width="0.25" text-anchor="middle">E</text>
<path d="M499.8 525.9 L492.65 521.6 V512.4 a1.6 1.6 0 0 1 1.6 -1.6 H505.35 a1.6 1.6 0 0 1 1.6 1.6 V521.6 Z" fill="#fff" stroke="#f23c41" stroke-width="1.3" stroke-linejoin="round"/>
<text x="499.8" y="520.7" font-size="9" font-weight="bold" fill="#f23c41" stroke="#f23c41" stroke-width="0.25" text-anchor="middle">E</text>
<rect x="734.5" y="510.6" width="14.1" height="13.7" rx="2.2" fill="#fff" stroke="#e0358c" stroke-width="1.3"/>
<rect x="731.5" y="515" width="6" height="5" fill="#fff"/>
<path d="M731.7 516.3 H736 M731.7 518.6 H736" stroke="#e0358c" stroke-width="1"/>
<text x="741.7" y="520.7" font-size="9" font-weight="bold" fill="#e0358c" stroke="#e0358c" stroke-width="0.25" text-anchor="middle">E</text>
</svg></body></html>
